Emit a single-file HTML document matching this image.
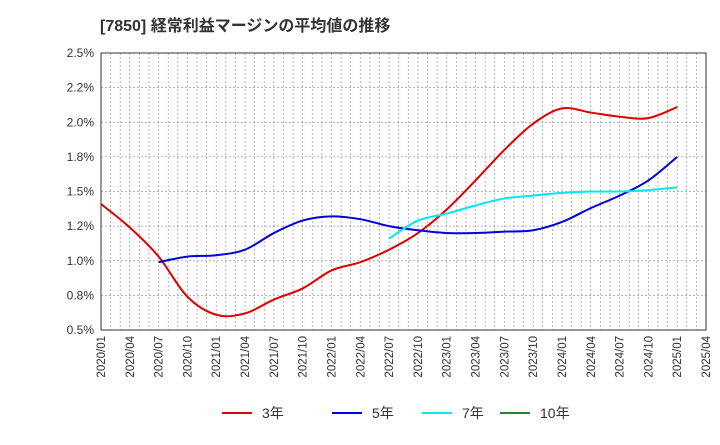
<!DOCTYPE html>
<html><head><meta charset="utf-8"><style>
body{margin:0;background:#fff;}
svg text{font-family:"Liberation Sans","Noto Sans CJK JP",sans-serif;}
</style></head><body>
<svg id="chart" width="720" height="440" xmlns="http://www.w3.org/2000/svg">
<text x="100" y="31" font-size="16" font-weight="bold" fill="#333">[7850]  経常利益マージンの平均値の推移</text>
<g id="grid"></g><g id="axes"></g><g id="series"></g><g id="legend"></g>
</svg>
<script>
const quarters=[];for(let y=2020;y<=2025;y++)for(const m of["01","04","07","10"])quarters.push(y+"/"+m);
const xTickLabels=quarters.slice(0,22);
const yTicks=[0.5,0.75,1.0,1.25,1.5,1.75,2.0,2.25,2.5];
const yTickLabels=["0.5%","0.8%","1.0%","1.2%","1.5%","1.8%","2.0%","2.2%","2.5%"];
const s3=[1.41,1.24,1.03,0.74,0.61,0.62,0.72,0.80,0.93,0.99,1.08,1.20,1.37,1.58,1.80,1.99,2.10,2.07,2.04,2.03,2.11];
const s5=[null,null,0.99,1.03,1.04,1.08,1.20,1.29,1.32,1.30,1.25,1.22,1.20,1.20,1.21,1.22,1.28,1.38,1.47,1.58,1.75];
const s7=[null,null,null,null,null,null,null,null,null,null,1.16,1.29,1.34,1.40,1.45,1.47,1.49,1.50,1.50,1.51,1.53];
const s10=[];
const L=101,R=706,T=53,B=330;
const X=i=>L+(R-L)*i/21;
const Y=v=>B-(v-0.5)/2.0*(B-T);
const NS="http://www.w3.org/2000/svg";
function mk(t,a,p){const e=document.createElementNS(NS,t);for(const k in a)e.setAttribute(k,a[k]);p.appendChild(e);return e;}
const grid=document.getElementById('grid'),axes=document.getElementById('axes'),ser=document.getElementById('series'),leg=document.getElementById('legend');
for(let m=1;m<63;m++){const x=L+(R-L)*m/63;
const g=mk('line',{x1:x,x2:x,y1:T,y2:B,stroke:'#999','stroke-width':0.7,'stroke-dasharray':'2,2'},grid);

}
yTicks.forEach((v,i)=>{const y=Y(v);
const g=mk('line',{x1:L,x2:R,y1:y,y2:y,stroke:'#999','stroke-width':0.7,'stroke-dasharray':'2,2'},grid);


const t=mk('text',{x:L-7,y:y+4,'text-anchor':'end','font-size':12,fill:'#333'},axes);t.textContent=yTickLabels[i];

});
const fr=mk('rect',{x:L,y:T,width:R-L,height:B-T,fill:'none',stroke:'#333','stroke-width':1},axes);


xTickLabels.forEach((s,i)=>{const x=X(i);
const t=mk('text',{transform:`translate(${x+4},${B+6}) rotate(-90)`,'text-anchor':'end','font-size':11.5,fill:'#333'},axes);t.textContent=s;

});
function path(arr){const pts=[];arr.forEach((v,i)=>{if(v!=null)pts.push([X(i),Y(v)]);});if(pts.length<2)return'';
let d=`M${pts[0][0]},${pts[0][1]}`;
for(let i=0;i<pts.length-1;i++){const p0=pts[i-1]||pts[i],p1=pts[i],p2=pts[i+1],p3=pts[i+2]||p2;
d+=` C${p1[0]+(p2[0]-p0[0])/6},${p1[1]+(p2[1]-p0[1])/6} ${p2[0]-(p3[0]-p1[0])/6},${p2[1]-(p3[1]-p1[1])/6} ${p2[0]},${p2[1]}`;}
return d;}
const defs=[[s3,'#e00000','3年','line-3yr'],[s5,'#0000dd','5年','line-5yr'],[s7,'#00e8f0','7年','line-7yr'],[s10,'#228b22','10年','line-10yr']];
const legX=[222,332,422,500];
defs.forEach(([a,c,lab,n],i)=>{const d=path(a);
if(d){const p=mk('path',{d:d,fill:'none',stroke:c,'stroke-width':2},ser);

}
const lx=legX[i];
const ll=mk('line',{x1:lx,x2:lx+30,y1:413,y2:413,stroke:c,'stroke-width':2},leg);


const t=mk('text',{x:lx+40,y:418,'font-size':14,fill:'#333'},leg);t.textContent=lab;

});
</script>
</body></html>
